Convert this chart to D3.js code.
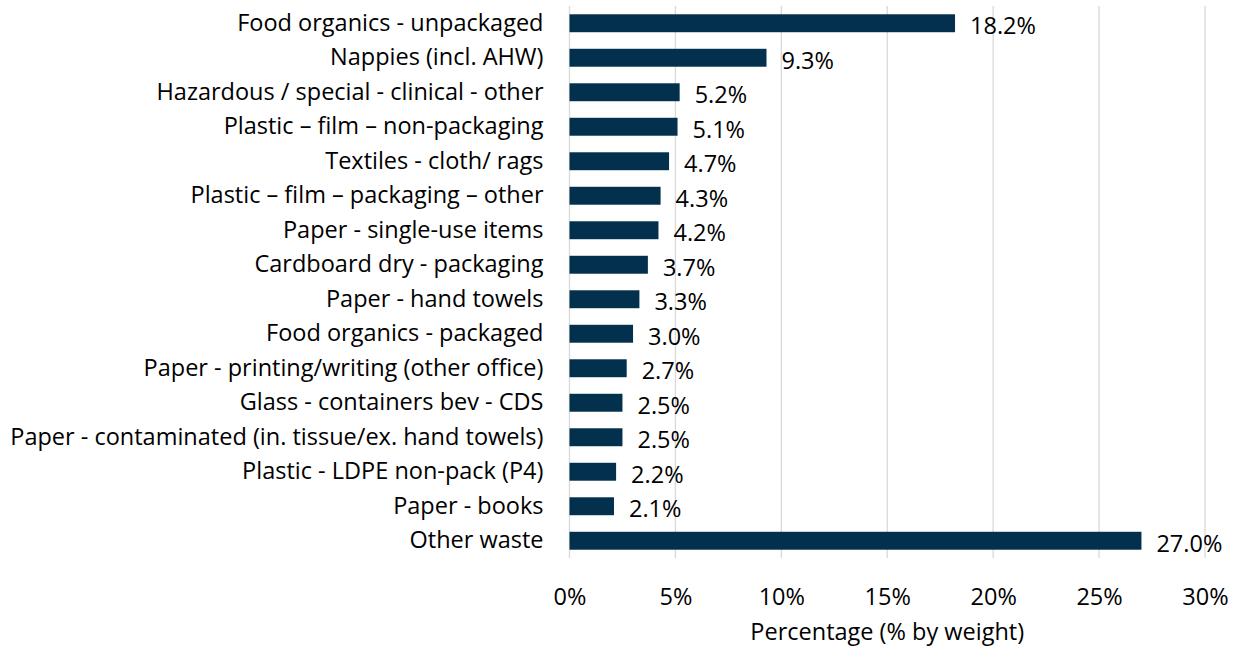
<!DOCTYPE html>
<html>
<head>
<meta charset="utf-8">
<script src="https://cdnjs.cloudflare.com/ajax/libs/d3/7.8.5/d3.min.js"></script>
<style>
  body { margin: 0; background: #fff; }
  svg text { font-family: "Open Sans", "Noto Sans", sans-serif; fill: #000; }
</style>
</head>
<body>
<svg id="chart" width="1239" height="646"></svg>
<script>
// categories, top to bottom
var categories = [
    "Food organics - unpackaged",
    "Nappies (incl. AHW)",
    "Hazardous / special - clinical - other",
    "Plastic \u2013 film \u2013 non-packaging",
    "Textiles - cloth/ rags",
    "Plastic \u2013 film \u2013 packaging \u2013 other",
    "Paper - single-use items",
    "Cardboard dry - packaging",
    "Paper - hand towels",
    "Food organics - packaged",
    "Paper - printing/writing (other office)",
    "Glass - containers bev - CDS",
    "Paper - contaminated (in. tissue/ex. hand towels)",
    "Plastic - LDPE non-pack (P4)",
    "Paper - books",
    "Other waste"
];
// percentage by weight
var values = [18.2, 9.3, 5.2, 5.1, 4.7, 4.3, 4.2, 3.7, 3.3, 3.0, 2.7, 2.5, 2.5, 2.2, 2.1, 27.0];
var xTicks = [0, 5, 10, 15, 20, 25, 30];

var fontSize = 23.5;

var svg = d3.select("#chart");
var margin = {left: 569.5, right: 34, top: 6, bottom: 88};
var width = 1239 - margin.left - margin.right;
var height = 646 - margin.top - margin.bottom;

var g = svg.append("g").attr("transform", "translate(" + margin.left + "," + margin.top + ")");

var x = d3.scaleLinear().domain([0, 30]).range([0, width]);
var y = d3.scaleBand().domain(categories).range([0, height]).paddingInner(0.48).paddingOuter(0.24);

// gridlines
g.selectAll(".grid")
    .data(xTicks)
    .enter()
    .append("line")
        .attr("class", "grid")
        .attr("x1", function(d) { return x(d); })
        .attr("x2", function(d) { return x(d); })
        .attr("y1", 0)
        .attr("y2", height)
        .attr("stroke", "#d9d9d9")
        .attr("stroke-width", 1.3);

// bars
g.selectAll(".bar")
    .data(values)
    .enter()
    .append("rect")
        .attr("class", "bar")
        .attr("x", 0)
        .attr("y", function(d, i) { return y(categories[i]); })
        .attr("width", function(d) { return x(d); })
        .attr("height", y.bandwidth())
        .attr("fill", "#03314d");

// value labels
g.selectAll(".val")
    .data(values)
    .enter()
    .append("text")
        .attr("class", "val")
        .attr("x", function(d) { return x(d) + 15; })
        .attr("y", function(d, i) { return y(categories[i]) + y.bandwidth() / 2 + 3; })
        .attr("dy", "0.35em")
        .attr("font-size", fontSize)
        .text(function(d) { return d.toFixed(1) + "%"; });

// category labels
var yAxis = d3.axisLeft(y).tickSize(0).tickPadding(26);
g.append("g")
    .call(yAxis)
    .call(function(a) { a.select(".domain").remove(); })
    .selectAll("text")
        .attr("font-size", fontSize)
        .attr("fill", "#000");

// x axis
var xAxis = d3.axisBottom(x).tickValues(xTicks).tickSize(0).tickPadding(30)
    .tickFormat(function(d) { return d + "%"; });
g.append("g")
    .attr("transform", "translate(0," + height + ")")
    .call(xAxis)
    .call(function(a) { a.select(".domain").remove(); })
    .selectAll("text")
        .attr("font-size", fontSize)
        .attr("fill", "#000");

// axis title
g.append("text")
    .attr("x", width / 2)
    .attr("y", height + 82)
    .attr("text-anchor", "middle")
    .attr("font-size", fontSize)
    .text("Percentage (% by weight)");
</script>
</body>
</html>
